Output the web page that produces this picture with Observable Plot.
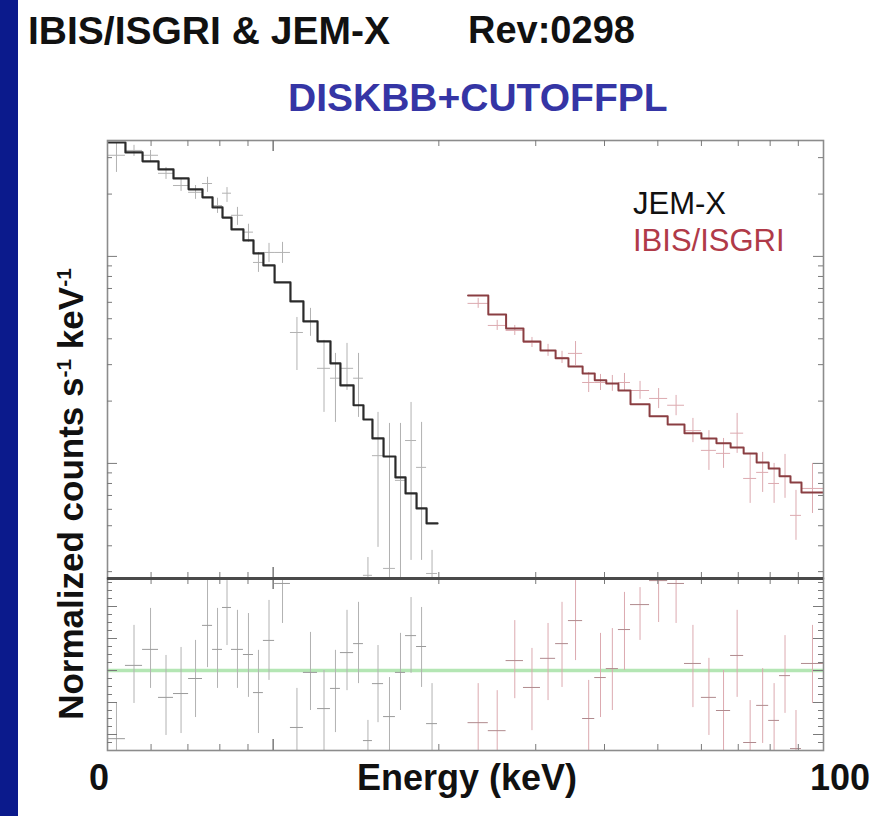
<!DOCTYPE html>
<html><head><meta charset="utf-8">
<script src="https://cdn.jsdelivr.net/npm/d3@7"></script>
<script src="https://cdn.jsdelivr.net/npm/@observablehq/plot@0.6"></script>
<style>
html,body{margin:0;padding:0;background:#fff;}
#page{position:relative;width:895px;height:816px;overflow:hidden;background:#fff;font-family:"Liberation Sans",Arial,Helvetica,sans-serif;}
#strip{position:absolute;left:0;top:0;width:18px;height:816px;background:#0b1a8c;}
.t{position:absolute;white-space:nowrap;line-height:1;}
.b{font-weight:bold;}
#top,#res{position:absolute;left:97px;}
#top{top:130px;}
#res{top:568px;}
#ylab{position:absolute;left:70px;top:494px;transform:translate(-50%,-50%) rotate(-90deg);font-weight:bold;font-size:35px;white-space:nowrap;line-height:1;color:#111;}
#ylab sup{font-size:60%;vertical-align:0.55em;line-height:0;}
</style></head><body>
<div id="page">
  <div id="strip"></div>
  <div class="t b" style="left:28px;top:11px;font-size:39px;color:#111;">IBIS/ISGRI &amp; JEM-X</div>
  <div class="t b" style="left:468px;top:11px;font-size:38px;color:#111;">Rev:0298</div>
  <div class="t b" style="left:288px;top:78px;font-size:39px;color:#3535a5;">DISKBB+CUTOFFPL</div>
  <div id="top"></div>
  <div id="res"></div>
  <div class="t" style="left:633px;top:188px;font-size:31px;color:#111;">JEM-X</div>
  <div class="t" style="left:633px;top:225px;font-size:31px;color:#b03a48;">IBIS/ISGRI</div>
  <div id="ylab">Normalized counts s<sup>-1</sup> keV<sup>-1</sup></div>
  <div class="t b" style="left:89px;top:760px;font-size:36px;color:#111;">0</div>
  <div class="t b" style="left:357px;top:760px;font-size:36px;color:#111;">Energy (keV)</div>
  <div class="t b" style="left:810px;top:760px;font-size:36px;color:#111;">100</div>
</div>
<script>
// ---- data (keV, normalized counts s^-1 keV^-1, residual sigma) ----
const X_DOMAIN = [5, 100];
const Y_DOMAIN = [0.00278, 0.363];
const R_DOMAIN = [-2.5, 2.875];

// JEM-X
const JX_EDGES = [5.0, 5.39, 5.79, 6.19, 6.59, 7.02, 7.44, 7.76, 8.09, 8.40, 8.83, 9.21, 9.60, 10.06, 10.75, 11.35, 12.04, 12.71, 13.25, 14.00, 14.59, 15.15, 15.87, 16.68, 17.40, 18.22, 19.00, 19.89];
const JX_MODEL = [0.355, 0.318, 0.288, 0.263, 0.238, 0.211, 0.193, 0.1725, 0.154, 0.135, 0.1195, 0.1034, 0.0905, 0.0749, 0.0606, 0.0485, 0.0389, 0.0304, 0.0238, 0.0191, 0.0163, 0.0132, 0.0108, 0.00856, 0.00716, 0.00606, 0.00513];
const JX_DATA = [0.308, 0.325, 0.308, 0.252, 0.220, 0.204, 0.225, 0.176, 0.202, 0.158, 0.131, 0.0935, 0.1045, 0.1045, 0.0429, 0.0485, 0.0288, 0.0258, 0.0288, 0.0258, 0.00288, 0.0109, 0.00311, 0.00828, 0.0129, 0.00957, 0.00294];
const JX_HI = [0.352, 0.344, 0.325, 0.269, 0.236, 0.220, 0.241, 0.191, 0.215, 0.1725, 0.143, 0.1045, 0.1156, 0.1169, 0.0507, 0.0561, 0.0393, 0.0340, 0.0380, 0.0340, 0.00351, 0.01764, 0.0156, 0.0156, 0.0197, 0.01578, 0.0038];
const JX_LO = [0.2545, 0.304, 0.284, 0.2355, 0.206, 0.1886, 0.2038, 0.1613, 0.1823, 0.1412, 0.1169, 0.0837, 0.0935, 0.0925, 0.0281, 0.0411, 0.01764, 0.01578, 0.02253, 0.01668, 0.002, 0.00393, 0.002, 0.002, 0.0034, 0.0034, 0.002];
const JX_RES = [-2.13, 0.16, 0.66, -0.84, -0.72, -0.25, 1.41, 0.66, 1.97, 0.66, 0.50, -0.69, 0.94, 2.72, -1.78, -0.06, -1.19, -0.56, 0.56, 0.84, -2.19, -0.41, -1.44, -0.06, 1.09, 0.75, -1.66];
const JX_RES_LO = [-3.0, -1.03, -0.56, -2.03, -1.97, -1.47, 0.09, -0.56, 0.78, -0.56, -0.84, -1.97, -0.31, 1.47, -2.9, -1.25, -2.56, -1.94, -0.63, -0.41, -2.8, -1.63, -2.7, -1.25, -0.09, -0.53, -2.7];
const JX_RES_HI = [-1.03, 1.41, 1.94, 0.47, 0.72, 0.94, 2.9, 1.94, 2.81, 1.88, 1.78, 0.63, 2.19, 2.95, -0.56, 1.19, 0.0, 0.63, 1.88, 2.13, -1.56, 0.78, -0.22, 1.16, 2.28, 1.97, -0.41];

// IBIS/ISGRI
const IS_EDGES = [22.6, 24.6, 26.5, 28.5, 30.6, 32.6, 34.4, 36.5, 38.4, 40.3, 42.4, 44.6, 48.3, 52.1, 55.9, 60.0, 63.9, 67.8, 71.6, 75.6, 79.5, 83.2, 87.1, 91.2, 100];
const IS_MODEL = [0.0648, 0.0524, 0.0449, 0.0388, 0.0351, 0.0322, 0.0294, 0.0272, 0.0252, 0.0243, 0.0225, 0.0193, 0.0169, 0.0154, 0.0140, 0.0132, 0.0125, 0.01195, 0.01118, 0.01011, 0.00946, 0.00866, 0.00809, 0.00724];
const IS_DATA = [0.0593, 0.0464, 0.0439, 0.0384, 0.0351, 0.0325, 0.0340, 0.0246, 0.0246, 0.0243, 0.0246, 0.0225, 0.0206, 0.0191, 0.0144, 0.01156, 0.01118, 0.0140, 0.00846, 0.00905, 0.0080, 0.00866, 0.00561, 0.00757];
const IS_HI = [0.0627, 0.0491, 0.0464, 0.0406, 0.0376, 0.0348, 0.0388, 0.0275, 0.0269, 0.0266, 0.0272, 0.0249, 0.0230, 0.0213, 0.0165, 0.0144, 0.0132, 0.01744, 0.01118, 0.0113, 0.0100, 0.01105, 0.00741, 0.0100];
const IS_LO = [0.0561, 0.0439, 0.0415, 0.0363, 0.0329, 0.0304, 0.0297, 0.0220, 0.0225, 0.0223, 0.0223, 0.0204, 0.0184, 0.0170, 0.0126, 0.00925, 0.00946, 0.01118, 0.00641, 0.00724, 0.00641, 0.00678, 0.00425, 0.00573];
const IS_RES = [-1.63, -1.88, 0.31, -0.53, 0.38, 0.84, 1.56, -1.5, -0.22, 0.06, 1.28, 2.06, 2.81, 2.72, 0.22, -0.84, -1.25, 0.47, -2.25, -1.09, -1.56, -0.16, -2.44, 0.22];
const IS_RES_LO = [-2.9, -3.0, -0.88, -1.88, -0.94, -0.53, 0.31, -2.7, -1.47, -1.25, 0.0, 0.94, 1.5, 1.47, -1.16, -2.03, -2.56, -0.84, -2.6, -2.28, -2.5, -1.34, -2.7, -1.03];
const IS_RES_HI = [-0.41, -0.63, 1.56, 0.69, 1.47, 2.13, 2.81, -0.31, 1.16, 1.31, 2.44, 2.59, 2.95, 2.9, 1.41, 0.38, 0.0, 1.88, -0.94, 0.06, -0.41, 1.09, -1.25, 1.41];

// frame tick values
const X_MINOR = [6, 7, 8, 9, 20, 30, 40, 50, 60, 70, 80, 90];
const X_MAJOR = [10];
const Y_MINOR = [0.003, 0.004, 0.005, 0.006, 0.007, 0.008, 0.009, 0.02, 0.03, 0.04, 0.05, 0.06, 0.07, 0.08, 0.09, 0.2, 0.3];
const Y_MAJOR = [0.01, 0.1];
const R_MINOR = [-2.25, -1.75, -1.5, -1.25, -0.75, -0.5, -0.25, 0.25, 0.5, 0.75, 1.25, 1.5, 1.75, 2.25, 2.5, 2.75];
const R_MAJOR = [-2, -1, 0, 1, 2];

// ---- build ----
function rows(edges, model, data, lo, hi, res, rlo, rhi) {
  return model.map((m, i) => ({
    x1: edges[i], x2: edges[i + 1], xc: Math.sqrt(edges[i] * edges[i + 1]),
    m, y: data[i], lo: lo[i], hi: hi[i], r: res[i], rlo: rlo[i], rhi: rhi[i]
  }));
}
function steps(edges, model) {
  return edges.map((e, i) => ({x: e, y: model[Math.min(i, model.length - 1)]}));
}
const jx = rows(JX_EDGES, JX_MODEL, JX_DATA, JX_LO, JX_HI, JX_RES, JX_RES_LO, JX_RES_HI);
const is = rows(IS_EDGES, IS_MODEL, IS_DATA, IS_LO, IS_HI, IS_RES, IS_RES_LO, IS_RES_HI);

const W = 736, M = 10;
const TOP_H = 458, TOP_IH = TOP_H - 2 * M;
const RES_H = 192, RES_IH = RES_H - 2 * M;
const JX_C = "#b2b2b2", IS_C = "#dcaab0", TICK = "#7a7a7a";

function frameTicks(ih, yMinor, yMajor) {
  const iw = W - 2 * M;
  return [
    Plot.tickX(X_MINOR, {x: d => d, insetBottom: ih - 6, stroke: TICK}),
    Plot.tickX(X_MAJOR, {x: d => d, insetBottom: ih - 11, stroke: TICK, strokeWidth: 1.5}),
    Plot.tickX(X_MINOR, {x: d => d, insetTop: ih - 6, stroke: TICK}),
    Plot.tickX(X_MAJOR, {x: d => d, insetTop: ih - 11, stroke: TICK, strokeWidth: 1.5}),
    Plot.tickY(yMinor, {y: d => d, insetRight: iw - 5, stroke: TICK}),
    Plot.tickY(yMajor, {y: d => d, insetRight: iw - 10, stroke: TICK}),
    Plot.tickY(yMinor, {y: d => d, insetLeft: iw - 5, stroke: TICK}),
    Plot.tickY(yMajor, {y: d => d, insetLeft: iw - 10, stroke: TICK})
  ];
}

const topPlot = Plot.plot({
  width: W, height: TOP_H,
  marginTop: M, marginBottom: M, marginLeft: M, marginRight: M,
  x: {type: "log", domain: X_DOMAIN, axis: null},
  y: {type: "log", domain: Y_DOMAIN, axis: null},
  style: {background: "transparent", overflow: "visible"},
  marks: [
    Plot.ruleX(jx, {x: "xc", y1: "lo", y2: "hi", stroke: JX_C, strokeWidth: 1, clip: true}),
    Plot.ruleY(jx, {y: "y", x1: "x1", x2: "x2", stroke: JX_C, strokeWidth: 1, clip: true}),
    Plot.ruleX(is, {x: "xc", y1: "lo", y2: "hi", stroke: IS_C, strokeWidth: 1, clip: true}),
    Plot.ruleY(is, {y: "y", x1: "x1", x2: "x2", stroke: IS_C, strokeWidth: 1, clip: true}),
    Plot.line(steps(JX_EDGES, JX_MODEL), {x: "x", y: "y", curve: "step-after", stroke: "#2a2a2a", strokeWidth: 2.2, clip: true}),
    Plot.line(steps(IS_EDGES, IS_MODEL), {x: "x", y: "y", curve: "step-after", stroke: "#8a3e42", strokeWidth: 2, clip: true}),
    Plot.frame({stroke: "#8c8c8c", strokeWidth: 1.6}),
    ...frameTicks(TOP_IH, Y_MINOR, Y_MAJOR),
    Plot.ruleY([Y_DOMAIN[0]], {stroke: "#4a4a4a", strokeWidth: 3})
  ]
});

const resPlot = Plot.plot({
  width: W, height: RES_H,
  marginTop: M, marginBottom: M, marginLeft: M, marginRight: M,
  x: {type: "log", domain: X_DOMAIN, axis: null},
  y: {type: "linear", domain: R_DOMAIN, axis: null},
  style: {background: "transparent", overflow: "visible"},
  marks: [
    Plot.ruleY([0], {stroke: "#b4e6b4", strokeWidth: 3.5}),
    Plot.ruleX(jx, {x: "xc", y1: "rlo", y2: "rhi", stroke: JX_C, strokeWidth: 1, clip: true}),
    Plot.ruleY(jx, {y: "r", x1: "x1", x2: "x2", stroke: "#9a9a9a", strokeWidth: 1, clip: true}),
    Plot.ruleX(is, {x: "xc", y1: "rlo", y2: "rhi", stroke: IS_C, strokeWidth: 1, clip: true}),
    Plot.ruleY(is, {y: "r", x1: "x1", x2: "x2", stroke: "#b08a8e", strokeWidth: 1, clip: true}),
    Plot.frame({stroke: "#8c8c8c", strokeWidth: 1.6}),
    ...frameTicks(RES_IH, R_MINOR, R_MAJOR),
    Plot.ruleY([R_DOMAIN[1]], {stroke: "#4a4a4a", strokeWidth: 3})
  ]
});

document.getElementById("top").appendChild(topPlot);
document.getElementById("res").appendChild(resPlot);
</script>
</body></html>
